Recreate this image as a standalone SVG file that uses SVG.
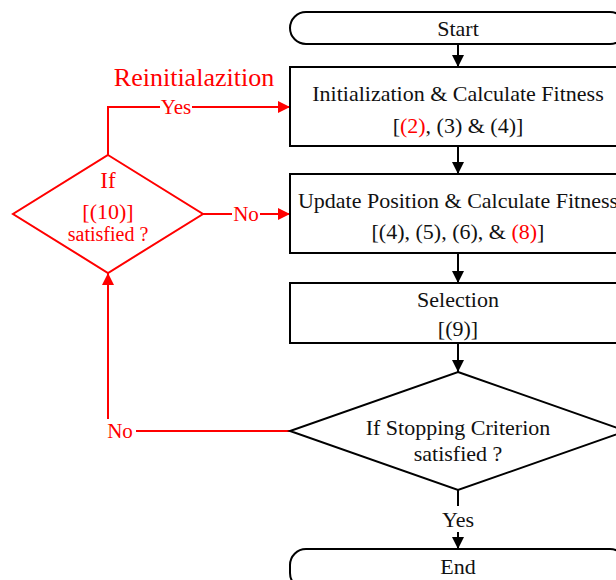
<svg xmlns="http://www.w3.org/2000/svg" width="616" height="580" viewBox="0 0 616 580">
<defs>
<marker id="ab" viewBox="0 0 10 10" refX="10" refY="5" markerWidth="12" markerHeight="12" markerUnits="userSpaceOnUse" orient="auto"><path d="M0,0 L10,5 L0,10 z" fill="#000"/></marker>
<marker id="ar" viewBox="0 0 10 10" refX="10" refY="5" markerWidth="12" markerHeight="12" markerUnits="userSpaceOnUse" orient="auto"><path d="M0,0 L10,5 L0,10 z" fill="#f00"/></marker>
</defs>
<style>
text{font-family:"Liberation Serif","Times New Roman",serif;text-anchor:middle;dominant-baseline:central}
.b{fill:#111;font-size:22px}
.r{fill:#f00}
.shape{fill:#fff;stroke:#000;stroke-width:2}
.rs{fill:#fff;stroke:#f00;stroke-width:2}
.cb{fill:none;stroke:#000;stroke-width:2}
.cr{fill:none;stroke:#f00;stroke-width:2}
</style>
<rect width="616" height="580" fill="#fff"/>
<g id="connectors">
<line class="cb" x1="458" y1="44" x2="458" y2="67" marker-end="url(#ab)"/>
<line class="cb" x1="458" y1="146" x2="458" y2="174" marker-end="url(#ab)"/>
<line class="cb" x1="458" y1="253" x2="458" y2="283" marker-end="url(#ab)"/>
<line class="cb" x1="458" y1="343" x2="458" y2="372" marker-end="url(#ab)"/>
<line class="cb" x1="458" y1="490" x2="458" y2="506"/>
<line class="cb" x1="458" y1="532" x2="458" y2="549" marker-end="url(#ab)"/>
<text class="b" x="458" y="519">Yes</text>
<polyline class="cr" points="290,431 108,431 108,273" marker-end="url(#ar)"/>
<rect x="104" y="419" width="32" height="24" fill="#fff"/>
<text class="r" x="120" y="431" font-size="21">No</text>
<line class="cr" x1="203" y1="214" x2="290" y2="214" marker-end="url(#ar)"/>
<rect x="232" y="203" width="28" height="22" fill="#fff"/>
<text class="r" x="246" y="214" font-size="21">No</text>
<polyline class="cr" points="108,155 108,107 290,107" marker-end="url(#ar)"/>
<rect x="160" y="96" width="32" height="22" fill="#fff"/>
<text class="r" x="176" y="107" font-size="21">Yes</text>
</g>
<text class="r" x="194" y="77" font-size="26">Reinitialazition</text>
<g id="start">
<rect class="shape" x="290" y="12" width="336" height="32" rx="16"/>
<text class="b" x="458" y="28">Start</text>
</g>
<g id="init">
<rect class="shape" x="290" y="67" width="340" height="79"/>
<text class="b" x="458" y="93">Initialization &amp; Calculate Fitness</text>
<text class="b" x="458" y="125">[<tspan fill="#f00">(2)</tspan>, (3) &amp; (4)]</text>
</g>
<g id="update">
<rect class="shape" x="290" y="174" width="340" height="79"/>
<text class="b" x="458" y="200">Update Position &amp; Calculate Fitness</text>
<text class="b" x="458" y="231">[(4), (5), (6), &amp; <tspan fill="#f00">(8)</tspan>]</text>
</g>
<g id="selection">
<rect class="shape" x="290" y="283" width="340" height="60"/>
<text class="b" x="458" y="299">Selection</text>
<text class="b" x="458" y="328">[(9)]</text>
</g>
<g id="stop">
<polygon class="shape" points="458,372 626,431 458,490 290,431"/>
<text class="b" x="458" y="427">If Stopping Criterion</text>
<text class="b" x="458" y="453">satisfied ?</text>
</g>
<g id="end">
<rect class="shape" x="290" y="549" width="336" height="40" rx="16"/>
<text class="b" x="458" y="566">End</text>
</g>
<g id="reinit-check">
<polygon class="rs" points="108,155 203,214 108,273 13,214"/>
<text class="r" x="108" y="180" font-size="23">If</text>
<text class="r" x="108" y="211" font-size="22">[(10)]</text>
<text class="r" x="108" y="234" font-size="20">satisfied ?</text>
</g>
</svg>
